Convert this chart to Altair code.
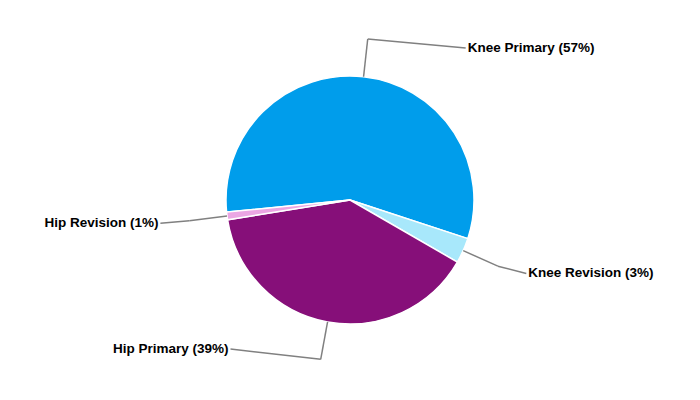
import altair as alt
import pandas as pd
import math

categories = ["Knee Primary", "Knee Revision", "Hip Primary", "Hip Revision"]
values = [56.6, 3.3, 39.1, 1.0]
colors = ["#009DEB", "#A8E8FB", "#860F79", "#EBA6E3"]

df = pd.DataFrame({"category": categories, "value": values, "idx": list(range(len(categories)))})

START = -95.6 * math.pi / 180  # start angle of first slice (radians)
R_PIE = 124
R_ELBOW = 162
R_LABEL_X = 191
R_LABEL_Y = 180

base = alt.Chart(df).transform_joinaggregate(
    total="sum(value)"
).transform_window(
    cum="sum(value)", sort=[alt.SortField("idx")], frame=[None, 0]
).transform_calculate(
    t1=f"{START} + datum.cum / datum.total * 2 * PI",
    t0=f"{START} + (datum.cum - datum.value) / datum.total * 2 * PI",
    pct="round(datum.value / datum.total * 100)",
).transform_calculate(
    mid="(datum.t0 + datum.t1) / 2",
    label="datum.category + ' (' + datum.pct + '%)'",
).transform_calculate(
    side="sin(datum.mid) >= 0 ? 1 : -1",
    x0=f"{R_PIE} * sin(datum.mid)",
    y0=f"{R_PIE} * cos(datum.mid)",
    x1=f"{R_ELBOW} * sin(datum.mid)",
    y1=f"{R_ELBOW} * cos(datum.mid)",
    y2=f"clamp({R_LABEL_Y} * cos(datum.mid), -149, 152)",
).transform_calculate(
    x2=f"datum.side * sqrt({R_LABEL_X}*{R_LABEL_X} - datum.y2*datum.y2)",
)

xs = alt.Scale(domain=[-342, 342])
ys = alt.Scale(domain=[-192, 192])

pie = base.mark_arc(outerRadius=R_PIE, stroke="white", strokeWidth=1.5).encode(
    theta=alt.Theta("t0:Q", scale=None),
    theta2="t1:Q",
    color=alt.Color("category:N", scale=alt.Scale(domain=categories, range=colors), legend=None),
)

seg1 = base.mark_rule(color="#808080", strokeWidth=1.5).encode(
    x=alt.X("x0:Q", scale=xs, axis=None),
    y=alt.Y("y0:Q", scale=ys, axis=None),
    x2="x1:Q",
    y2="y1:Q",
)
seg2 = base.mark_rule(color="#808080", strokeWidth=1.5).encode(
    x=alt.X("x1:Q", scale=xs, axis=None),
    y=alt.Y("y1:Q", scale=ys, axis=None),
    x2="x2:Q",
    y2="y2:Q",
)

txt_style = dict(font="Liberation Sans", fontSize=13.5, fontWeight="bold", color="black", baseline="middle")
right_txt = base.transform_filter("datum.side > 0").mark_text(align="left", dx=2, **txt_style).encode(
    x=alt.X("x2:Q", scale=xs, axis=None),
    y=alt.Y("y2:Q", scale=ys, axis=None),
    text="label:N",
)
left_txt = base.transform_filter("datum.side < 0").mark_text(align="right", dx=-2, **txt_style).encode(
    x=alt.X("x2:Q", scale=xs, axis=None),
    y=alt.Y("y2:Q", scale=ys, axis=None),
    text="label:N",
)

chart = alt.layer(pie, seg1, seg2, right_txt, left_txt).properties(
    width=684, height=384, autosize="none", padding=0, background="white"
).configure_view(stroke=None)

chart.save("out.html", embed_options={"renderer": "svg", "actions": False})
